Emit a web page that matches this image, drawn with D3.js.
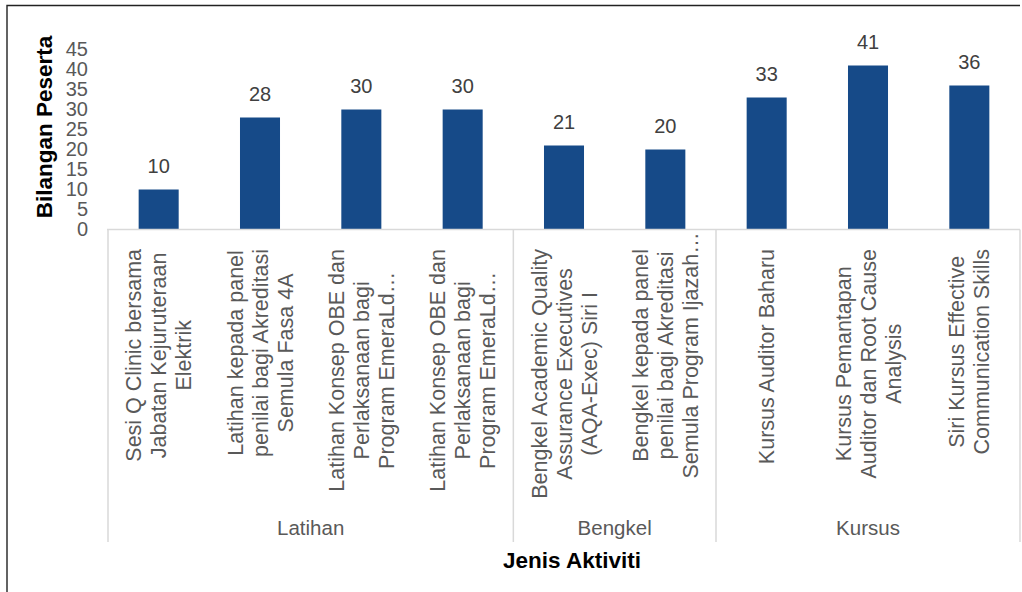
<!DOCTYPE html>
<html>
<head>
<meta charset="utf-8">
<script src="https://cdn.jsdelivr.net/npm/d3@7"></script>
<style>
  body { margin: 0; background: #fff; }
  svg { display: block; font-family: "Liberation Sans", Arial, sans-serif; }
</style>
</head>
<body>
<svg id="chart" width="1022" height="592"></svg>
<script>
// Data
var categoryLines = [
  ["Sesi Q Clinic bersama", "Jabatan Kejuruteraan", "Elektrik"],
  ["Latihan kepada panel", "penilai bagi Akreditasi", "Semula Fasa 4A"],
  ["Latihan Konsep OBE dan", "Perlaksanaan bagi", "Program EmeraLd\u2026"],
  ["Latihan Konsep OBE dan", "Perlaksanaan bagi", "Program EmeraLd\u2026"],
  ["Bengkel Academic Quality", "Assurance Executives", "(AQA-Exec) Siri I"],
  ["Bengkel kepada panel", "penilai bagi Akreditasi", "Semula Program Ijazah\u2026"],
  ["Kursus Auditor Baharu"],
  ["Kursus Pemantapan", "Auditor dan Root Cause", "Analysis"],
  ["Siri Kursus Effective", "Communication Skills"]
];
var values = [10, 28, 30, 30, 21, 20, 33, 41, 36];
var groups = ["Latihan", "Bengkel", "Kursus"];
var groupSizes = [4, 2, 3];
var yTicks = [0, 5, 10, 15, 20, 25, 30, 35, 40, 45];

var svg = d3.select("#chart");
var grey = "#595959";
var lineColor = "#d9d9d9";

// Frame (only top and left edges are visible)
svg.append("path")
  .attr("d", "M7,600V5.5H1020")
  .attr("fill", "none")
  .attr("stroke", "#222")
  .attr("stroke-width", 1.4);

// Scales
const x = d3.scaleBand()
  .domain(d3.range(values.length))
  .range([108, 1020])
  .paddingInner(0.605)
  .paddingOuter(0.3025);

const y = d3.scaleLinear()
  .domain([0, 45])
  .range([229.5, 49.5]);

// Y axis labels only
const yaxis = d3.axisLeft(y).tickValues(yTicks).tickSize(0).tickPadding(0);
const yg = svg.append("g").attr("transform", "translate(88,0)").call(yaxis);
yg.select(".domain").remove();
yg.selectAll("text")
  .style("font-size", "20px")
  .style("font-family", "'Liberation Sans', Arial, sans-serif")
  .attr("fill", grey);

// Bars
svg.selectAll(".bar")
  .data(values)
  .join("rect")
  .attr("class", "bar")
  .attr("x", function(d, i) { return x(i); })
  .attr("width", x.bandwidth())
  .attr("y", function(d) { return y(d); })
  .attr("height", function(d) { return y(0) - y(d); })
  .attr("fill", "#164a88");

// Data labels
svg.selectAll(".val")
  .data(values)
  .join("text")
  .attr("class", "val")
  .attr("x", function(d, i) { return x(i) + x.bandwidth() / 2; })
  .attr("y", function(d) { return y(d) - 17; })
  .attr("text-anchor", "middle")
  .style("font-size", "20px")
  .attr("fill", "#404040")
  .text(function(d) { return d; });

// X axis line
const xaxis = d3.axisBottom(x).tickSize(0).tickFormat("");
const xg = svg.append("g").attr("transform", "translate(0,229.5)").call(xaxis);
xg.select(".domain").attr("stroke", lineColor).attr("stroke-width", 1.5)
  .attr("d", "M107,0H1020");

// Group dividers
var boundary = function(i) {
  if (i >= values.length) return x(values.length - 1) + x.bandwidth() / 2 + x.step() / 2;
  return x(i) + x.bandwidth() / 2 - x.step() / 2;
};
var starts = [0];
groupSizes.forEach(function(n, k) { starts.push(starts[k] + n); });

svg.selectAll(".divider")
  .data(starts)
  .join("line")
  .attr("class", "divider")
  .attr("x1", function(d) { return boundary(d); })
  .attr("x2", function(d) { return boundary(d); })
  .attr("y1", 229.5)
  .attr("y2", 542)
  .attr("stroke", lineColor)
  .attr("stroke-width", 1.5);

// Group labels
svg.selectAll(".grp")
  .data(groups)
  .join("text")
  .attr("class", "grp")
  .attr("x", function(d, k) { return (boundary(starts[k]) + boundary(starts[k + 1])) / 2; })
  .attr("y", 535)
  .attr("text-anchor", "middle")
  .style("font-size", "20.5px")
  .attr("fill", grey)
  .text(function(d) { return d; });

// Category labels (rotated, multi-line, block anchored near axis;
// truncated lines ending in an ellipsis may overflow)
var lineGap = 25;
var labelTop = 249;
categoryLines.forEach(function(lines, i) {
  var cx = x(i) + x.bandwidth() / 2;
  var n = lines.length;
  var g = svg.append("g").attr("class", "cat");
  var texts = lines.map(function(t, j) {
    return g.append("text")
      .attr("text-anchor", "middle")
      .attr("dy", "0.35em")
      .style("font-size", "21.5px")
      .attr("fill", grey)
      .text(t);
  });
  var fit = texts.filter(function(t, j) { return !/\u2026$/.test(lines[j]); });
  if (!fit.length) fit = texts;
  var maxW = d3.max(fit, function(t) { return t.node().getComputedTextLength(); });
  var cy = labelTop + maxW / 2;
  texts.forEach(function(t, j) {
    var lx = cx + (j - (n - 1) / 2) * lineGap;
    t.attr("transform", `translate(${lx},${cy}) rotate(-90)`);
  });
});

// Axis titles
svg.append("text")
  .attr("transform", "translate(52,127) rotate(-90)")
  .attr("text-anchor", "middle")
  .style("font-size", "22.5px")
  .style("font-weight", "bold")
  .attr("fill", "#000")
  .text("Bilangan Peserta");

svg.append("text")
  .attr("x", 572)
  .attr("y", 568)
  .attr("text-anchor", "middle")
  .style("font-size", "22.5px")
  .style("font-weight", "bold")
  .attr("fill", "#000")
  .text("Jenis Aktiviti");
</script>
</body>
</html>
